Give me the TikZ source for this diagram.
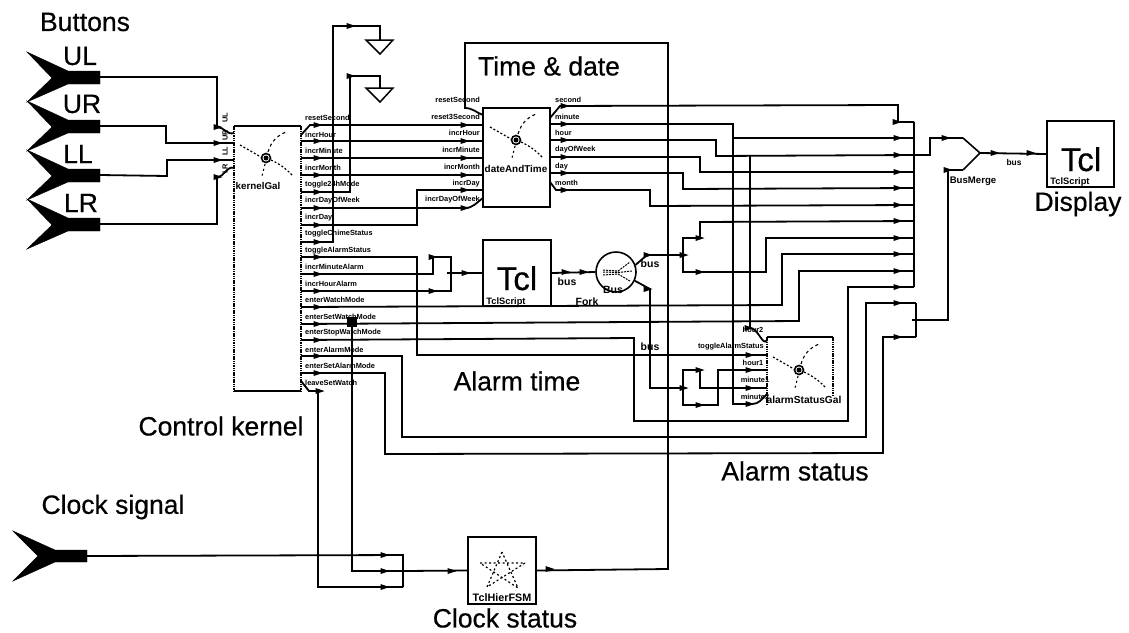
\documentclass[tikz,border=0pt]{standalone}
\usepackage{fontspec}
\setmainfont{Liberation Sans}
\newfontfamily\heavyf[FakeBold=0.5]{Liberation Sans}
\usetikzlibrary{calc}
\newcommand\wtip[1]{\fill (#1) ++(-4.5,-3) -- ++(9,3) -- ++(-9,3) -- cycle;}
\newcommand\galicon[1]{\begin{scope}[shift={(#1)}]
 \draw[line width=1.2pt,dash pattern=on 2pt off 2pt] (-26,-13) -- (-5,-1);
 \draw[line width=1.2pt,dash pattern=on 2pt off 2pt] (5,2) to[bend left=10] (26,17);
 \draw[line width=1.1pt,dash pattern=on 3pt off 3pt] (2,-6) to[bend left=25] (20,-26);
 \draw[line width=1.1pt,dash pattern=on 2pt off 3pt] (-1,6) -- (-4,18);
 \draw[line width=1.6pt] (0,0) circle (4.5);
 \fill (0,0) circle (2.5);
\end{scope}}
\tikzset{
 x=1pt,y=-1pt,
 wire/.style={line width=1.8pt,line join=miter},
 blockbox/.style={draw,line width=1.5pt,fill=white},
 dotbox/.style={draw,line width=1.2pt,dash pattern=on 1.5pt off 0.8pt},
 biglabel/.style={font=\fontsize{26.5}{28}\heavyf,inner sep=0pt},
 tcllabel/.style={font=\fontsize{33}{34}\heavyf,inner sep=0pt,text depth=0pt,text height=24pt},
 tiny/.style={font=\fontsize{7.4}{8}\selectfont\bfseries,inner sep=0pt},
 blockname/.style={inner sep=0pt},
 buslabel/.style={font=\fontsize{10.5}{11}\selectfont\bfseries,inner sep=0pt},
 portl/.style={tiny,anchor=west},
 portr/.style={tiny,anchor=east},
 srcport/.style={fill=black,draw=black,line join=miter},
}
\begin{document}
\begin{tikzpicture}
\useasboundingbox (0,0) rectangle (1129,632);
% ---- button source ports
\foreach \yy/\nm in {0/b1,49/b2,98/b3,147/b4}{
 \fill[srcport] (27,52+\yy) -- (68,71+\yy) -- (100,71+\yy) -- (100,84+\yy) -- (68,84+\yy) -- (27,102+\yy) -- (52,78+\yy) -- cycle;
 \coordinate (\nm) at (100,77+\yy);
}
\fill[srcport] (13,531) -- (55,550) -- (87,550) -- (87,562) -- (55,562) -- (13,581) -- (38,556) -- cycle;
\coordinate (clk) at (87,556);
% ---- ground symbols
\coordinate (g1) at (380,40); \coordinate (g2) at (380,88);
\draw[line width=1.5pt] (366,40) -- (393,40) -- (380,54) -- cycle;
\draw[line width=1.5pt] (366,88) -- (393,88) -- (380,102) -- cycle;
% ---- blocks
\draw[line width=1.2pt] (301,126) -- (234,126);
\draw[dotbox] (234,126) -- (234,391);
\draw[dotbox] (301,126) -- (301,391);
\draw[line width=1.2pt] (234,391) -- (301,391);
\node[minimum width=67pt,minimum height=265pt,inner sep=0pt] (kern) at (267.5,258.5) {};
\galicon{266,158}
\node[blockname,font=\fontsize{9.8}{10}\selectfont\bfseries] (kernn) at (258,186) {kernelGal};
\node[blockbox,minimum width=67pt,minimum height=99pt,inner sep=0pt] (date) at (516.5,157.5) {};
\galicon{516,140}
\node[blockname,font=\fontsize{9.9}{10}\selectfont\bfseries] (daten) at (516,169) {dateAndTime};
\node[blockbox,minimum width=68pt,minimum height=66pt,inner sep=0pt] (tclm) at (517,273) {};
\node[tcllabel] (tclmt) at (517,278) {Tcl};
\node[blockname,font=\fontsize{9.3}{10}\selectfont\bfseries] (tclmn) at (506,302) {TclScript};
\draw[line width=1.2pt] (767,337) -- (833,337);
\draw[dotbox] (767,337) -- (767,404);
\draw[dotbox] (833,337) -- (833,395);
\node[minimum width=66pt,minimum height=67pt,inner sep=0pt] (alarm) at (800,370.5) {};
\galicon{799,370}
\node[blockname,font=\fontsize{10.2}{10}\selectfont\bfseries] (alarmn) at (804,400) {alarmStatusGal};
\node[blockbox,minimum width=68pt,minimum height=67pt,inner sep=0pt] (fsm) at (502,570.5) {};
\draw[line width=1.2pt,dash pattern=on 2pt off 2.5pt] (502,552) -- (487,587) -- (525,563) -- (480,563) -- (518,588) -- cycle;
\node[blockname,font=\fontsize{10.8}{11}\selectfont\bfseries] (fsmn) at (502,598) {TclHierFSM};
\node[blockbox,minimum width=67pt,minimum height=66pt,inner sep=0pt] (tcld) at (1080.5,154) {};
\node[tcllabel] (tcldt) at (1081,159) {Tcl};
\node[blockname,font=\fontsize{9.3}{10}\selectfont\bfseries] (tcldn) at (1070,182) {TclScript};
\node[draw,circle,line width=1.6pt,minimum size=40pt,inner sep=0pt] (fork) at (616,272) {};
\draw[line width=1pt,dash pattern=on 2pt off 1pt] (603,270) -- (618,271) -- (630,262) (603,272) -- (618,272.5) -- (632,271) (603,275) -- (618,274) -- (630,281);
\node[buslabel] (forkb) at (613,290) {Bus};
\draw[line width=1.6pt] (963,138) -- (980,153) -- (963,170);
\coordinate (mtop) at (963,138); \coordinate (mbot) at (963,170); \coordinate (mout) at (980,153);
% ---- buttons to kernel
\draw[wire] (b1) -| (217,127) to[out=0,in=200] (234,133);
\draw[wire] (b2) -- (166,126) |- (234,143);
\draw[wire] (b3) -- (167,176) |- (234,160);
\draw[wire] (b4) -| (217,177) to[out=0,in=160] (234,168);
% ---- kernel outputs
\draw[wire] (301,135) -- (310,125) -- (483,125);
\draw[wire] (301,141) -- (483,141);
\draw[wire] (301,158) -- (483,158);
\draw[wire] (301,175) -- (483,175);
\draw[wire] (301,192) -| (350,76) -| (g2);
\draw[wire] (301,208) -- (465,208) to[out=0,in=215] (483,198);
\draw[wire] (301,225) -| (417,190) -- (483,190);
\draw[wire] (301,242) -| (333,26) -| (g1);
\draw[wire] (301,257) -| (417,355) -- (767,355);
\draw[wire] (301,274) -- (433,274) |- (451,257) |- (301,291);
\draw[wire] (447,273) -- (tclm.west);
\draw[wire] (301,307) -- (782,305) |- (914,254);
\draw[wire] (301,324) -- (799,321) |- (914,271);
\draw[wire] (301,340) -- (634,338) |- (848,421) |- (914,287);
\draw[wire] (301,356) -| (402,437) -- (866,437) |- (916,303);
\draw[wire] (301,373) -| (385,454) -- (883,453) |- (916,337);
\draw[wire] (301,381) -- (309,391) -- (318,391) |- (403,587);
% ---- clock
\draw[wire] (clk) -- (403,555) -- (403,587);
\draw[wire] (352,322) |- (403,571);
\fill (347,317) rectangle (357,327);
\draw[wire] (403,571) -- (fsm.west);
\draw[wire] (fsm.east) -- (668,569) |- (465,43) -- (465,108) to[out=0,in=160] (483,115);
% ---- date outputs
\draw[wire] (550,118) -- (560,106) -- (898,105) |- (914,122);
\draw[wire] (550,124) -- (733,124) -- (733,404) -- (752,404) to[out=0,in=225] (767,394);
\draw[wire] (733,138) -- (914,138);
\draw[wire] (550,140) -| (716,156) -- (914,155);
\draw[wire] (750,156) -- (750,328) to[out=0,in=240] (767,340);
\draw[wire] (550,157) -| (700,172) -- (914,172);
\draw[wire] (550,173) -| (683,189) -- (914,188);
\draw[wire] (550,182) -- (556,190) -| (650,206) -- (914,205);
% ---- bus
\draw[wire] (914,122) -- (914,287);
\draw[wire] (912,155) -| (930,138) -- (mtop);
\draw[wire] (916,303) -- (916,337);
\draw[wire] (912,320) -- (948,320) |- (mbot);
\draw[wire] (mout) -- (tcld.west);
% ---- Tcl / fork
\draw[wire] (tclm.east) -- (fork.west);
\draw[wire] (fork.20) -- (647,255);
\draw[line width=2.4pt] (647,255) -- (683,255);
\draw[wire] (fork.-25) -- (650,289) -- (650,388) -- (683,388);
% ---- splitter 1
\draw[wire] (683,255) |- (700,238) -- (700,222) -- (914,221);
\draw[wire] (683,255) |- (766,272) |- (914,238);
% ---- splitter 2
\draw[wire] (683,388) |- (700,370) |- (767,388);
\draw[wire] (683,388) |- (718,405) |- (767,370);
% ---- arrowheads
\foreach \px/\py in {
 218/127,218/143,218/160,218/177,
 318/125,318/141,318/158,318/175,318/192,318/208,318/225,318/242,318/257,318/274,318/291,318/307,318/324,318/340,318/356,318/373,320/391,
 465/125,465/141,465/158,465/175,465/190,465/208,
 351/26,351/76,
 433/257,433/291,466/273,
 565/106,565/124,565/140,565/157,565/173,565/190,
 898/138,898/155,898/172,898/188,898/205,898/221,898/238,898/254,898/271,898/287,898/303,898/337,
 566/272,584/272,648/255,648/289,684/255,700/238,700/272,
 700/370,700/405,684/388,
 750/355,750/370,750/388,750/404,749/328,
 897/122,946/138,948/170,
 995/153,1031/153,
 385/555,385/571,385/587,452/571,550/569}{
 \wtip{\px,\py}
}
% ---- texts: big labels
\node[biglabel] (tButtons) at (85,22) {Buttons};
\node[biglabel] (tUL) at (80,56) {UL};
\node[biglabel] (tUR) at (82,104) {UR};
\node[biglabel] (tLL) at (78,154) {LL};
\node[biglabel] (tLR) at (81,203) {LR};
\node[biglabel] (tTime) at (549,66) {Time \& date};
\node[biglabel] (tAlarmT) at (517,381) {Alarm time};
\node[biglabel] (tAlarmS) at (795,471) {Alarm status};
\node[biglabel] (tKern) at (221,426) {Control kernel};
\node[biglabel] (tClk) at (113,507) {Clock signal};
\node[biglabel] (tClkS) at (505,618) {Clock status};
\node[biglabel] (tDisp) at (1078,204) {Display};
% ---- kernel input labels
\node[tiny,rotate=90] (iUL) at (225,118) {UL};
\node[tiny,rotate=90] (iUR) at (225,135) {UR};
\node[tiny,rotate=90] (iLL) at (225,151) {LL};
\node[tiny,rotate=90] (iLR) at (225,169) {LR};
% ---- kernel output labels
\foreach \yy/\tx in {118/resetSecond,135/incrHour,151/incrMinute,168/incrMonth,185/toggle24hMode,201/incrDayOfWeek,218/incrDay,234/toggleChimeStatus,251/toggleAlarmStatus,267/incrMinuteAlarm,284/incrHourAlarm,300/enterWatchMode,317/enterSetWatchMode,333/enterStopWatchMode,350/enterAlarmMode,366/enterSetAlarmMode,383/leaveSetWatch}{
 \node[portl] at (305,\yy) {\tx};
}
% ---- date input labels
\foreach \yy/\tx in {100/resetSecond,117/reset3Second,133/incrHour,150/incrMinute,167/incrMonth,184/incrDay,200/incrDayOfWeek}{
 \node[portr] at (480,\yy) {\tx};
}
% ---- date output labels
\foreach \yy/\tx in {100/second,117/minute,133/hour,150/dayOfWeek,167/day,183/month}{
 \node[portl] at (555,\yy) {\tx};
}
% ---- alarm labels
\node[tiny] (h2) at (753,330) {hour2};
\node[portr] (tas) at (764,347) {toggleAlarmStatus};
\node[tiny] (h1) at (753,363) {hour1};
\node[tiny] (m1) at (755,380) {minute1};
\node[tiny] (m2) at (755,397) {minute2};
% ---- bus labels
\node[buslabel] (b1l) at (567,282) {bus};
\node[buslabel] (b2l) at (650,264) {bus};
\node[buslabel] (b3l) at (650,347) {bus};
\node[buslabel] (fl) at (587,302) {Fork};
\node[blockname,font=\fontsize{9.6}{10}\selectfont\bfseries] (bm) at (973,181) {BusMerge};
\node[tiny,font=\fontsize{8.4}{9}\selectfont\bfseries] (bl) at (1014,162) {bus};
\end{tikzpicture}
\end{document}
